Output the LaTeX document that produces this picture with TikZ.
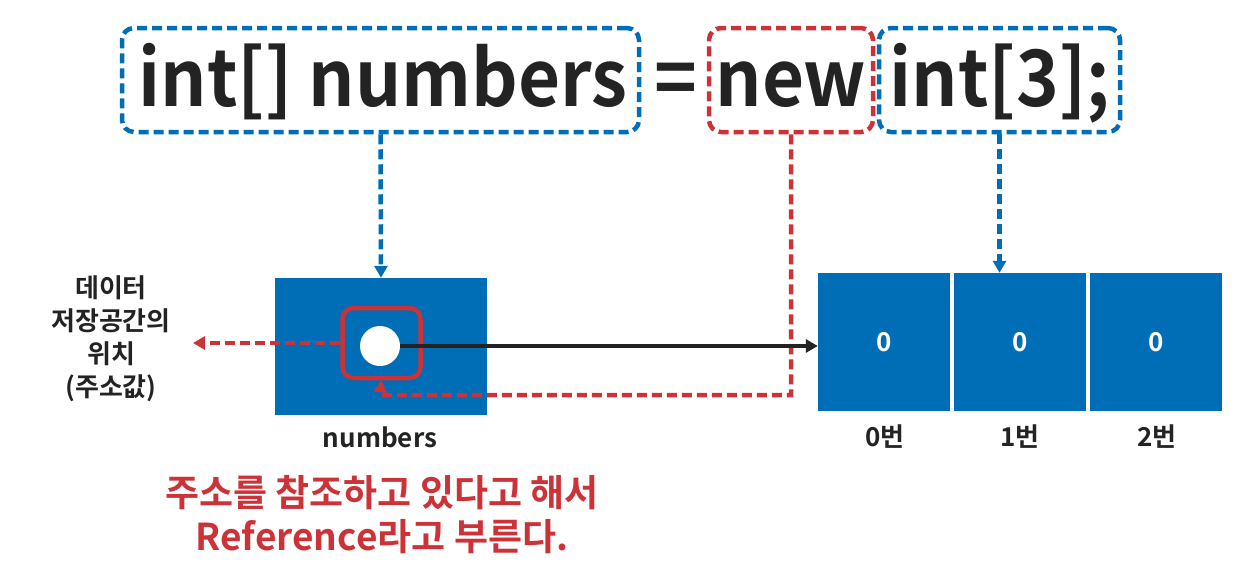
\documentclass[tikz,border=0pt]{standalone}
\usepackage{fontspec}
\setmainfont{Noto Sans CJK KR}[BoldFont={Noto Sans CJK KR Bold}]
\newfontfamily\codefont{Noto Sans CJK KR Bold}[FakeStretch=0.93]
\usetikzlibrary{arrows.meta}
\definecolor{mblue}{RGB}{0,110,182}
\definecolor{mred}{RGB}{204,51,56}
\definecolor{mdark}{RGB}{35,35,35}
\tikzset{
  dbox/.style={line width=4.5pt, dash pattern=on 10pt off 5pt, rounded corners=12pt},
  dline/.style={line width=4.5pt, dash pattern=on 10pt off 5pt},
  code/.style={font=\fontsize{78}{80}\codefont, text=mdark, inner sep=0pt, anchor=base},
  lbl/.style={font=\fontsize{26}{33}\selectfont\bfseries, text=mdark, align=center, inner sep=0pt},
  cell/.style={fill=mblue, minimum width=132pt, minimum height=138pt, inner sep=0pt, text=white, font=\fontsize{26}{28}\selectfont\bfseries},
  tip/.style={-{Triangle[length=12pt,width=13pt]}}
}
\begin{document}
\begin{tikzpicture}[x=1pt,y=-1pt]
\useasboundingbox (0,0) rectangle (1247,576);
% code text
\node[code] (t1) at (383,106) {int[] numbers};
\node[code] (teq) at (676,106) {=};
\node[code] (t2) at (791,106) {new};
\node[code] (t3) at (1000,106) {int[3];};
% dashed boxes
\node[draw=mblue, dbox, minimum width=517pt, minimum height=104pt] (b1) at (380.5,80) {};
\node[draw=mred, dbox, minimum width=164pt, minimum height=104pt] (b2) at (791,80) {};
\node[draw=mblue, dbox, minimum width=241pt, minimum height=104pt] (b3) at (999.5,80) {};
% numbers box
\node[fill=mblue, minimum width=212pt, minimum height=137pt, inner sep=0pt] (nb) at (381,346.5) {};
\node[draw=mred, line width=4.5pt, rounded corners=11pt, minimum width=78pt, minimum height=70pt, inner sep=0pt] (rs) at (381.5,343) {};
\node[circle, fill=white, minimum size=40pt, inner sep=0pt] (dot) at (380,346) {};
% array cells
\node[cell] (c0) at (884,342) {0};
\node[cell] (c1) at (1020,342) {0};
\node[cell] (c2) at (1156,342) {0};
% labels
\node[lbl] (nl) at (380,437) {numbers};
\node[lbl] (l0) at (885,437) {0번};
\node[lbl] (l1) at (1020,437) {1번};
\node[lbl] (l2) at (1157,437) {2번};
\node[lbl] (loc) at (111,339) {데이터\\저장공간의\\위치\\(주소값)};
\coordinate (locE) at (193,343);
\node[font=\fontsize{37}{44}\selectfont\bfseries, text=mred, align=center, inner sep=0pt] (ref) at (382,515) {주소를 참조하고 있다고 해서\\Reference라고 부른다.};
% connectors
\draw[mblue, dline, tip] (b1.south) -- (nb.north);
\draw[mblue, dline, tip] (b3.south) -- (c1.north -| b3.south);
\draw[mred, dline, tip] (b2.south) |- (380,395) -- (rs.south);
\draw[mred, dline, tip] (rs.west) -- (locE);
\draw[mdark, line width=4pt, tip] (dot.east) -- (c0.west |- dot.east);
\end{tikzpicture}
\end{document}
